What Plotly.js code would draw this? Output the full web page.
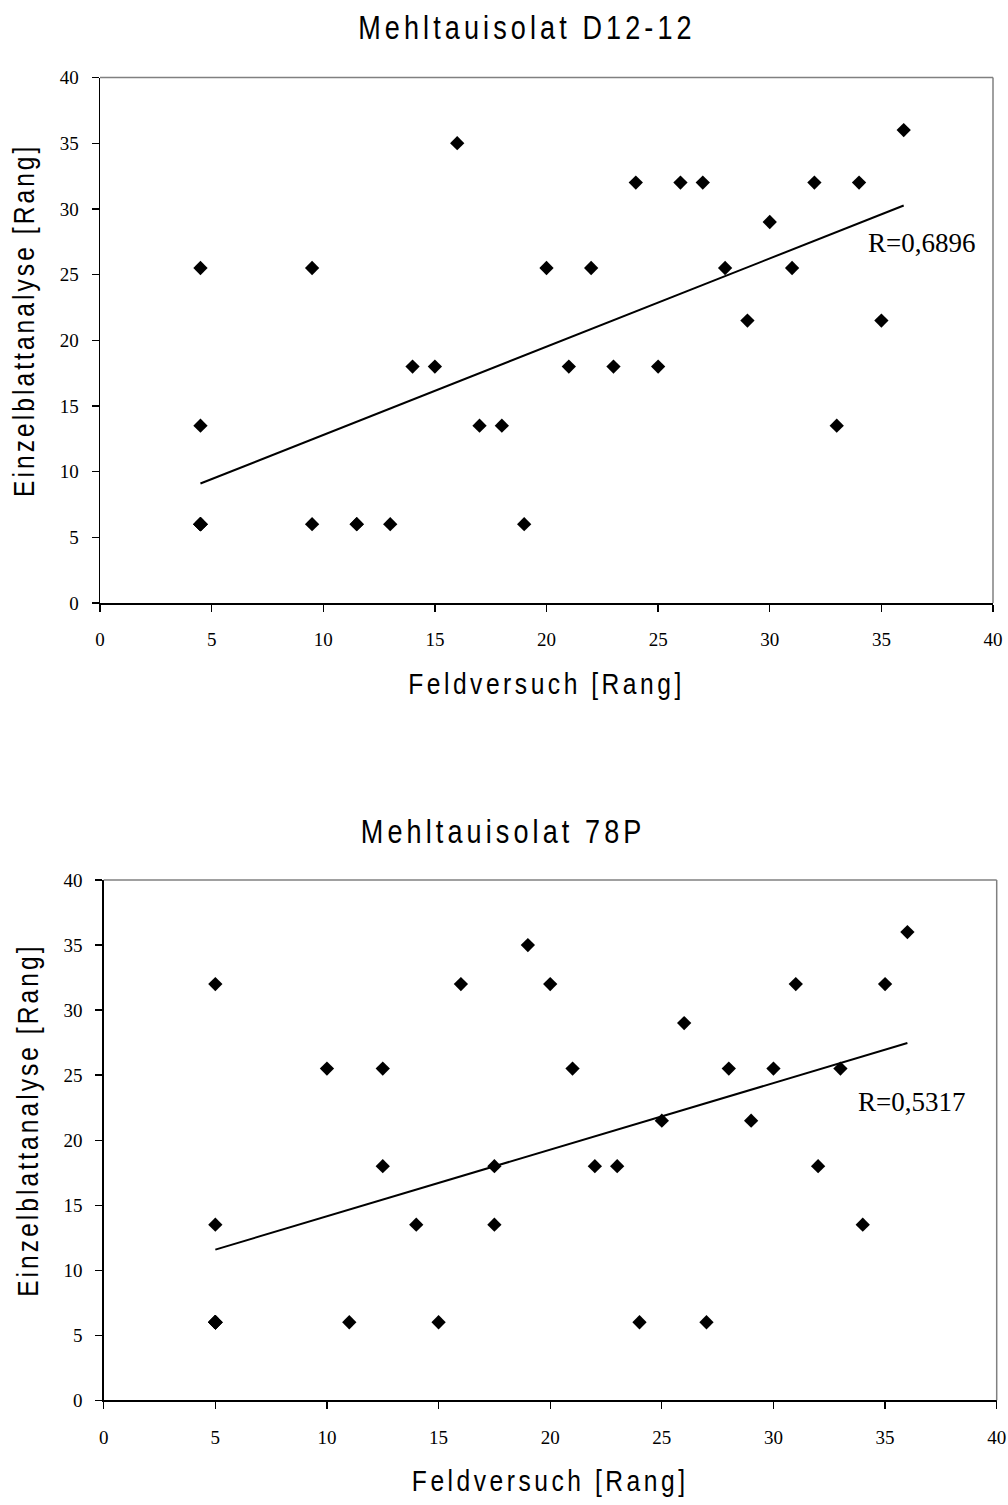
<!DOCTYPE html>
<html>
<head>
<meta charset="utf-8">
<script src="https://cdn.plot.ly/plotly-3.0.1.min.js"></script>
<style>
  html, body { margin: 0; padding: 0; background: #fff; }
  #chart { width: 1008px; height: 1505px; }
</style>
</head>
<body>
<div id="chart"></div>
<script>
// Isolate D12-12: rank in field trial vs. rank in single-leaf analysis
const d12Field = [4.5, 4.5, 4.5, 4.5, 4.5, 4.5, 4.5, 4.5, 9.5, 9.5, 11.5, 11.5, 13, 14, 15, 16, 17, 18,
                  19, 20, 21, 22, 23, 24, 25, 26, 27, 28, 29, 30, 31, 32, 33, 34, 35, 36];
const d12Leaf  = [6, 6, 6, 6, 6, 6, 13.5, 25.5, 25.5, 6, 6, 6, 6, 18, 18, 35, 13.5, 13.5,
                  6, 25.5, 18, 25.5, 18, 32, 18, 32, 32, 25.5, 21.5, 29, 25.5, 32, 13.5, 32, 21.5, 36];
const d12R = "R=0,6896";

// Isolate 78P
const p78Field = [5, 5, 5, 5, 5, 5, 5, 5, 5, 10, 11, 12.5, 12.5, 14, 15, 16, 17.5, 17.5,
                  19, 20, 21, 22, 23, 24, 25, 26, 27, 28, 29, 30, 31, 32, 33, 34, 35, 36];
const p78Leaf  = [6, 6, 6, 6, 6, 6, 6, 13.5, 32, 25.5, 6, 25.5, 18, 13.5, 6, 32, 18, 13.5,
                  35, 32, 25.5, 18, 18, 6, 21.5, 29, 6, 25.5, 21.5, 25.5, 32, 18, 25.5, 13.5, 32, 36];
const p78R = "R=0,5317";

const titles = ["Mehltauisolat D12-12", "Mehltauisolat 78P"];
const xTitle = "Feldversuch [Rang]";
const yTitle = "Einzelblattanalyse [Rang]";
const tickVals = [0, 5, 10, 15, 20, 25, 30, 35, 40];

// least-squares trend line over the x-range of the data
function trend(xs, ys) {
  const n = xs.length;
  const mx = xs.reduce((a, b) => a + b, 0) / n;
  const my = ys.reduce((a, b) => a + b, 0) / n;
  let sxy = 0, sxx = 0;
  for (let i = 0; i < n; i++) { sxy += (xs[i] - mx) * (ys[i] - my); sxx += (xs[i] - mx) ** 2; }
  const b = sxy / sxx, a = my - b * mx;
  const x0 = Math.min(...xs), x1 = Math.max(...xs);
  return { x: [x0, x1], y: [a + b * x0, a + b * x1] };
}

const sans = '"Liberation Sans", Arial, sans-serif';
const serif = '"Liberation Serif", "Times New Roman", serif';

const t1 = trend(d12Field, d12Leaf);
const t2 = trend(p78Field, p78Leaf);

const marker = { symbol: 'diamond', size: 11, color: '#000', line: { width: 0 } };
const data = [
  { x: d12Field, y: d12Leaf, type: 'scatter', mode: 'markers', marker: marker, xaxis: 'x', yaxis: 'y' },
  { x: t1.x, y: t1.y, type: 'scatter', mode: 'lines', line: { color: '#000', width: 2 }, xaxis: 'x', yaxis: 'y' },
  { x: p78Field, y: p78Leaf, type: 'scatter', mode: 'markers', marker: marker, xaxis: 'x2', yaxis: 'y2' },
  { x: t2.x, y: t2.y, type: 'scatter', mode: 'lines', line: { color: '#000', width: 2 }, xaxis: 'x2', yaxis: 'y2' }
];

function xAxis(domain, anchor) {
  return {
    domain: domain, anchor: anchor, range: [0, 40], tickvals: tickVals,
    ticks: 'outside', ticklen: 7, tickwidth: 1.3, tickcolor: '#000',
    showline: true, linecolor: '#000', linewidth: 1.5, showgrid: false, zeroline: false,
    tickfont: { family: serif, size: 19, color: '#000' }, ticklabelstandoff: 12,
    title: { text: xTitle, font: { family: sans, size: 30, color: '#000' }, standoff: 23 },
    fixedrange: true
  };
}
function yAxis(domain, anchor) {
  return {
    domain: domain, anchor: anchor, range: [0, 40], tickvals: tickVals,
    ticks: 'outside', ticklen: 7, tickwidth: 1.3, tickcolor: '#000',
    showline: true, linecolor: '#000', linewidth: 1.5, showgrid: false, zeroline: false,
    tickfont: { family: serif, size: 19, color: '#000' }, ticklabelstandoff: 9,
    title: { text: yTitle, font: { family: sans, size: 30, color: '#000' }, standoff: 16 },
    fixedrange: true
  };
}

const W = 1008, H = 1505;
const layout = {
  width: W, height: H,
  margin: { l: 0, r: 0, t: 0, b: 0 },
  paper_bgcolor: '#fff', plot_bgcolor: '#fff',
  showlegend: false,
  xaxis: xAxis([100 / W, 993 / W], 'y'),
  yaxis: yAxis([1 - 603 / H, 1 - 77.5 / H], 'x'),
  xaxis2: xAxis([103.7 / W, 996.7 / W], 'y2'),
  yaxis2: yAxis([1 - 1400.3 / H, 1 - 880 / H], 'x2'),
  shapes: [
    // grey top and right frame edges of each plot area
    { type: 'line', xref: 'x domain', yref: 'y domain', x0: 0, x1: 1, y0: 1, y1: 1, line: { color: '#808080', width: 1.5 } },
    { type: 'line', xref: 'x domain', yref: 'y domain', x0: 1, x1: 1, y0: 0, y1: 1, line: { color: '#808080', width: 1.5 } },
    { type: 'line', xref: 'x2 domain', yref: 'y2 domain', x0: 0, x1: 1, y0: 1, y1: 1, line: { color: '#808080', width: 1.5 } },
    { type: 'line', xref: 'x2 domain', yref: 'y2 domain', x0: 1, x1: 1, y0: 0, y1: 1, line: { color: '#808080', width: 1.5 } }
  ],
  annotations: [
    { text: titles[0], xref: 'paper', yref: 'paper', x: 526.5 / W, y: 1 - 28 / H, xanchor: 'center', yanchor: 'middle',
      showarrow: false, font: { family: sans, size: 33, color: '#000' } },
    { text: titles[1], xref: 'paper', yref: 'paper', x: 503 / W, y: 1 - 831 / H, xanchor: 'center', yanchor: 'middle',
      showarrow: false, font: { family: sans, size: 33, color: '#000' } },
    { text: d12R, xref: 'x', yref: 'y', x: 34.3, y: 27.4, xanchor: 'left', yanchor: 'middle',
      showarrow: false, font: { family: serif, size: 27, color: '#000' } },
    { text: p78R, xref: 'x2', yref: 'y2', x: 33.7, y: 22.9, xanchor: 'left', yanchor: 'middle',
      showarrow: false, font: { family: serif, size: 27, color: '#000' } }
  ]
};

// Condensed, wide-tracked lettering for the titles: track the letters, then
// squeeze each text along its own direction about its centre (shifted by dx).
function condense(el, tracking, sx, dx) {
  el.style.letterSpacing = tracking + 'px';
  const bb = el.getBBox();
  const cx = bb.x + bb.width / 2;
  const base = el.getAttribute('transform') || '';
  el.setAttribute('transform', base + ' translate(' + (cx + dx) + ',0) scale(' + sx + ',1) translate(' + (-cx) + ',0)');
}

Plotly.newPlot('chart', data, layout, { displayModeBar: false, staticPlot: true }).then(function (gd) {
  gd.querySelectorAll('text.xtitle, text.x2title').forEach(function (el) {
    condense(el, 4.3, 0.82, 0);
  });
  // the rotated titles sit a little above the middle of their axis
  gd.querySelectorAll('text.ytitle, text.y2title').forEach(function (el) {
    condense(el, 3.7, 0.82, 20);
  });
  gd.querySelectorAll('text.annotation-text').forEach(function (el) {
    if ((el.getAttribute('data-unformatted') || '').indexOf('Mehltau') === 0) condense(el, 5, 0.82, 0);
  });
});
</script>
</body>
</html>
